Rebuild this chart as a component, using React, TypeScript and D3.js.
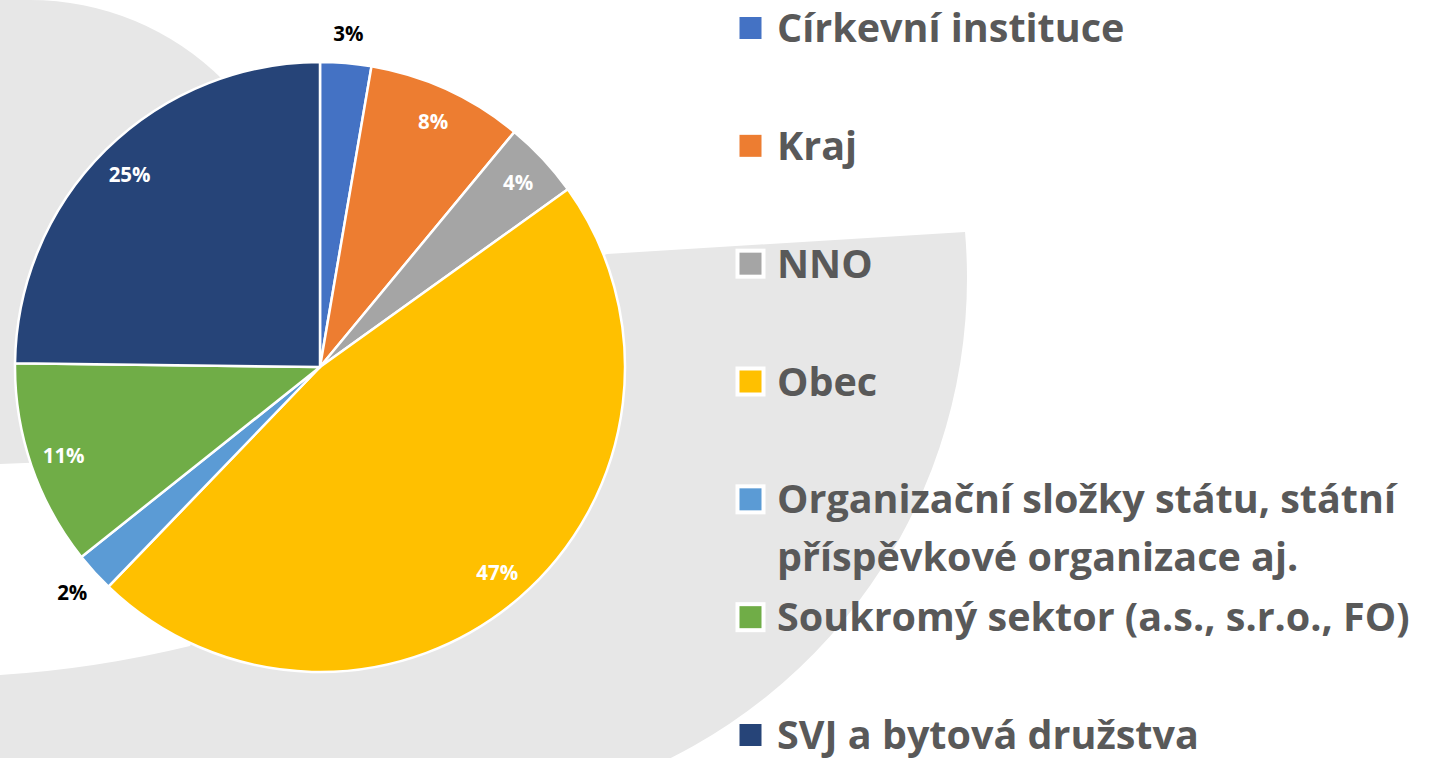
import React from 'react';
import * as d3 from 'd3';

// ---- data ----
const categories: string[] = [
  'Církevní instituce',
  'Kraj',
  'NNO',
  'Obec',
  'Organizační složky státu, státní příspěvkové organizace aj.',
  'Soukromý sektor (a.s., s.r.o., FO)',
  'SVJ a bytová družstva',
];
const legendLines: string[][] = [
  ['Církevní instituce'],
  ['Kraj'],
  ['NNO'],
  ['Obec'],
  ['Organizační složky státu, státní', 'příspěvkové organizace aj.'],
  ['Soukromý sektor (a.s., s.r.o., FO)'],
  ['SVJ a bytová družstva'],
];
const shares: number[] = [2.7, 8.3, 4.1, 47.1, 2.1, 10.9, 24.8];
const colors: string[] = ['#4472C4', '#ED7D31', '#A5A5A5', '#FFC000', '#5B9BD5', '#70AD47', '#264478'];

// ---- layout ----
const W = 1432;
const H = 758;
const CX = 320;
const CY = 367;
const R = 305;
const BG = '#E7E7E7';
const FONT = '"Open Sans", "Noto Sans", sans-serif';

function shapeA(): string {
  const p = d3.path();
  p.moveTo(0, 0);
  p.lineTo(30, 0);
  p.arc(30, 273, 273, -Math.PI / 2, 0, false);
  p.lineTo(303, 452);
  p.lineTo(0, 464);
  p.closePath();
  return p.toString();
}

function shapeB(): string {
  const p = d3.path();
  const c2x = 430, c2y = 278, r2 = 537;
  const a0 = Math.atan2(232 - c2y, 965 - c2x);
  p.moveTo(0, 675);
  p.quadraticCurveTo(95, 669, 190, 646);
  p.lineTo(CX, CY);
  p.lineTo(607, 254);
  p.lineTo(965, 232);
  p.arc(c2x, c2y, r2, a0, (70 * Math.PI) / 180, false);
  p.lineTo(0, 800);
  p.closePath();
  return p.toString();
}

export default function App() {
  const pie = d3.pie<number>().sort(null).value((d) => d);
  const arcs = pie(shares);
  const arcGen = d3.arc<d3.PieArcDatum<number>>().innerRadius(0).outerRadius(R);
  const total = d3.sum(shares);
  const legendY = d3.scalePoint<string>().domain(categories).range([28, 735]);

  return (
    <div style={{ position: 'absolute', left: 0, top: 0, width: W, height: H, overflow: 'hidden', background: '#fff' }}>
      <svg width={W} height={H} viewBox={`0 0 ${W} ${H}`} style={{ display: 'block' }}>
        <rect x={0} y={0} width={W} height={H} fill="#ffffff" />
        <path d={shapeA()} fill={BG} />
        <path d={shapeB()} fill={BG} />

        <g transform={`translate(${CX},${CY})`}>
          {arcs.map((a, i) => (
            <path key={i} d={arcGen(a) as string} fill={colors[i]} stroke="#ffffff" strokeWidth={2.5} strokeLinejoin="round" />
          ))}
          {arcs.map((a, i) => {
            const pct = (a.data / total) * 100;
            const outside = pct < 3;
            const mid = (a.startAngle + a.endAngle) / 2;
            const rr = outside ? 335 : 271;
            const x = rr * Math.sin(mid);
            const y = -rr * Math.cos(mid);
            return (
              <text
                key={'l' + i}
                x={x}
                y={y}
                textAnchor="middle"
                dominantBaseline="central"
                fontFamily={FONT}
                fontWeight={700}
                fontSize={20.5}
                fill={outside ? '#000000' : '#ffffff'}
              >
                {`${Math.round(pct)}%`}
              </text>
            );
          })}
        </g>

        <g>
          {categories.map((c, i) => {
            const y = legendY(c) as number;
            return (
              <g key={c}>
                <rect x={735.5} y={y - 15} width={30} height={30} fill="#ffffff" />
                <rect x={739.5} y={y - 11} width={22} height={22} fill={colors[i]} />
                <text x={777} y={y + 14} fontFamily={FONT} fontWeight={700} fontSize={39.5} fill="#595959">
                  {legendLines[i].map((line, j) => (
                    <tspan key={j} x={777} dy={j === 0 ? 0 : 58}>
                      {line}
                    </tspan>
                  ))}
                </text>
              </g>
            );
          })}
        </g>
      </svg>
    </div>
  );
}
